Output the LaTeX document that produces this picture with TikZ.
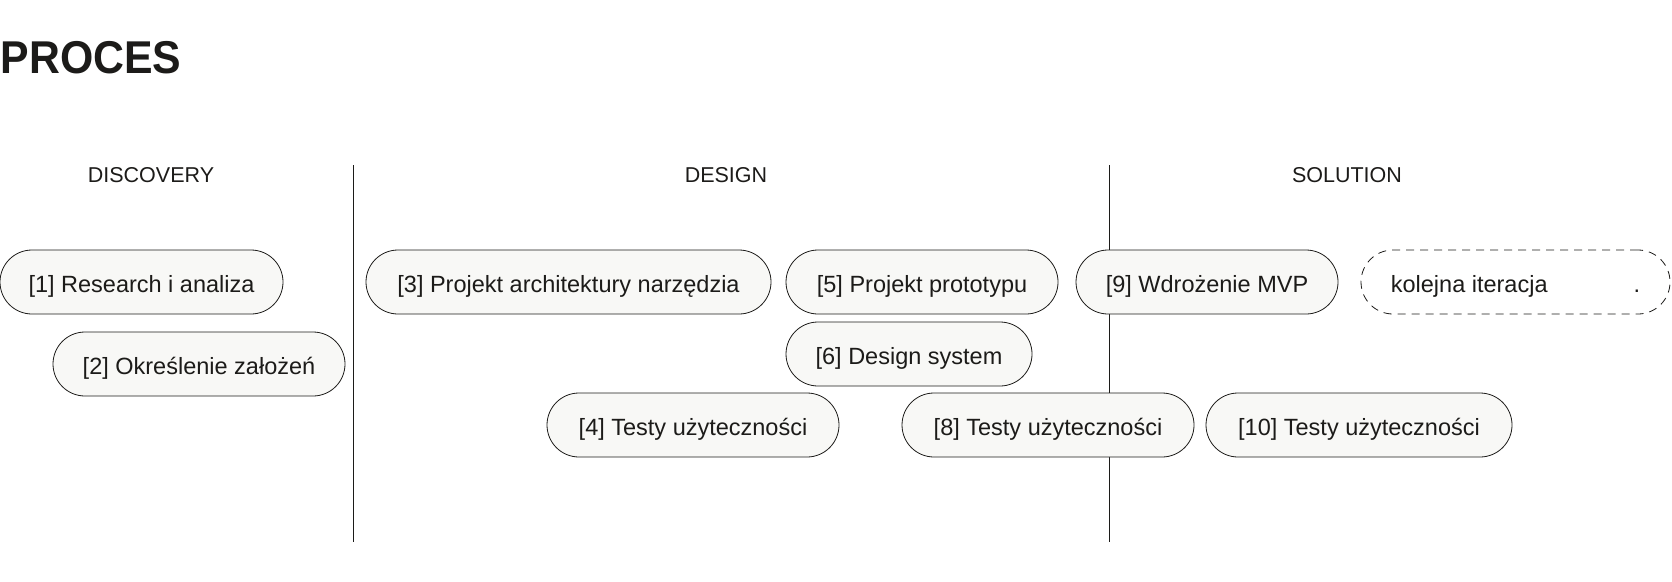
\documentclass[tikz,border=0pt]{standalone}
\usepackage{fontspec}
\setmainfont{Liberation Sans}
\newfontfamily\titlefont{Liberation Sans}[FakeStretch=0.93]
\begin{document}
\begin{tikzpicture}[x=1pt,y=-1pt]
\definecolor{ink}{HTML}{1C1B19}
\definecolor{pillfill}{HTML}{F8F8F6}
\tikzset{
  pill/.style={draw=ink, line width=0.8pt, fill=pillfill, rounded corners=32pt,
    minimum height=64pt, inner sep=0pt, text=ink, font=\fontsize{23.5}{28}\selectfont,
    text height=21.2pt, text depth=0pt},
  dashpill/.style={pill, fill=none, dash pattern=on 8pt off 6pt},
  header/.style={anchor=base, inner sep=0pt, text=ink, font=\fontsize{21.5}{25}\selectfont},
  divider/.style={draw=ink, line width=0.8pt}
}
\useasboundingbox (0,0) rectangle (1672,581);
% title
\node[anchor=base west, inner sep=0pt, text=ink, font=\titlefont\bfseries\fontsize{46}{50}\selectfont] (title) at (0.5,73.5) {PROCES};
% headers
\node[header] (hdisc) at (151,182.5) {DISCOVERY};
\node[header] (hdes) at (726,182.5) {DESIGN};
\node[header] (hsol) at (1347,182.5) {SOLUTION};
% dividers
\coordinate (d1t) at (353,165);
\coordinate (d1b) at (353,542);
\coordinate (d2t) at (1109,165);
\coordinate (d2b) at (1109,542);
\draw[divider] (d1t) -- (d1b);
\draw[divider] (d2t) -- (d2b);
% pills
\node[pill, minimum width=283pt] (p1) at (141.5,282) {[1] Research i analiza};
\node[pill, minimum width=292pt] (p2) at (199,364) {[2] Określenie założeń};
\node[pill, minimum width=405pt] (p3) at (568.5,282) {[3] Projekt architektury narzędzia};
\node[pill, minimum width=272pt] (p5) at (922,282) {[5] Projekt prototypu};
\node[pill, minimum width=246pt] (p6) at (909,354) {[6] Design system};
\node[pill, minimum width=292pt] (p4) at (693,425) {[4] Testy użyteczności};
\node[pill, minimum width=292pt] (p8) at (1048,425) {[8] Testy użyteczności};
\node[pill, minimum width=262pt] (p9) at (1207,282) {[9] Wdrożenie MVP};
\node[dashpill, minimum width=309pt] (pn) at (1515.5,282) {kolejna iteracja\hspace*{86pt}.};
\node[pill, minimum width=306pt] (p10) at (1359,425) {[10] Testy użyteczności};
\end{tikzpicture}
\end{document}
